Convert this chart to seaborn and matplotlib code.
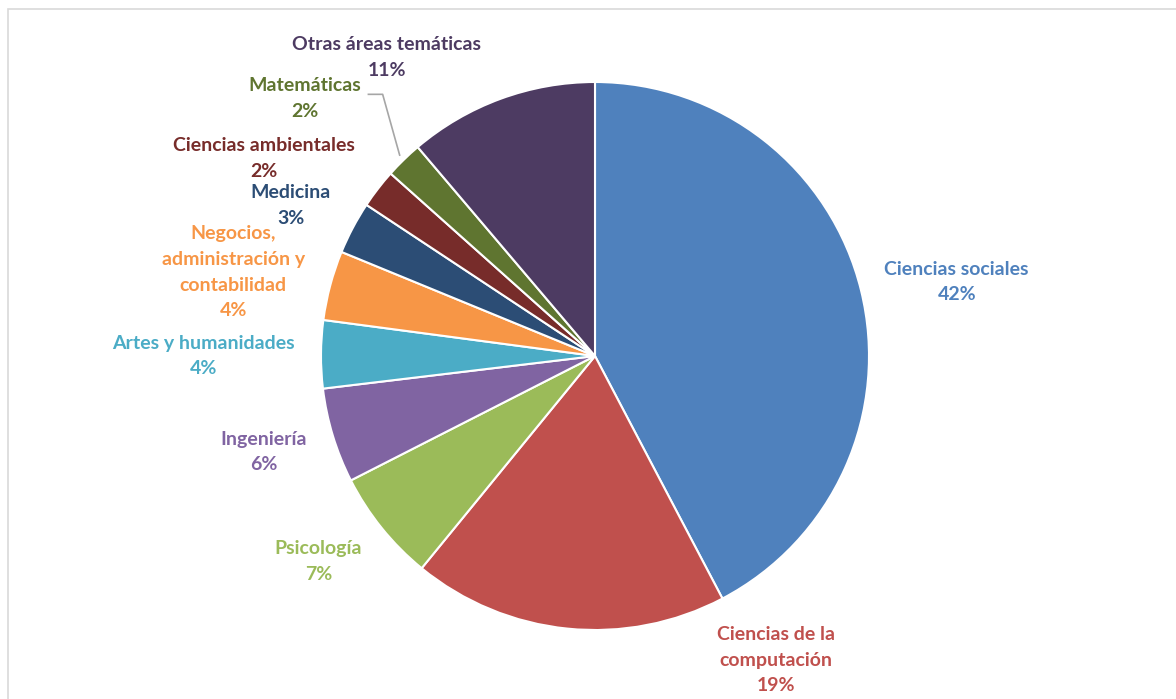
import numpy as np
import matplotlib
matplotlib.use("Agg")
import matplotlib.pyplot as plt
import seaborn as sns
from matplotlib.patches import Rectangle

## Data (shares; labels show them rounded)
categorias = ["Ciencias sociales", "Ciencias de la\ncomputación", "Psicología",
              "Ingeniería", "Artes y humanidades",
              "Negocios,\nadministración y\ncontabilidad", "Medicina",
              "Ciencias ambientales", "Matemáticas", "Otras áreas temáticas"]
porcentajes = [42.3, 18.6, 6.6, 5.6, 4.0, 4.1, 3.1, 2.3, 2.2, 11.2]
colores = ["#4F81BD", "#C0504D", "#9BBB59", "#8064A2", "#4BACC6",
           "#F79646", "#2C4D75", "#772C2A", "#5F7530", "#4D3B62"]

## Label positions (in pie radius units, relative to centre)
pos_etiquetas = [(1.32, 0.27), (0.66, -1.11), (-1.01, -0.75), (-1.21, -0.35),
                 (-1.43, 0.0), (-1.32, 0.305), (-1.11, 0.55), (-1.21, 0.72),
                 (-1.06, 0.94), (-0.76, 1.09)]

sns.set_theme(style="white")
plt.rcParams['font.family'] = ['Lato', 'DejaVu Sans']

W, H, dpi = 1176, 699, 100
fig = plt.figure(figsize=(W / dpi, H / dpi), dpi=dpi)
ax = fig.add_axes([0, 0, 1, 1])

cx, cy, r = 595, 699 - 356, 274
wedges, _ = ax.pie(porcentajes, colors=sns.color_palette(colores), startangle=90,
                   counterclock=False, radius=1,
                   wedgeprops=dict(edgecolor="white", linewidth=1.5))
ax.set_xlim(-cx / r, (W - cx) / r)
ax.set_ylim(-cy / r, (H - cy) / r)
ax.set_aspect("auto")
ax.axis("off")

for cat, val, col, (x, y) in zip(categorias, porcentajes, colores, pos_etiquetas):
    ax.text(x, y, f"{cat}\n{int(val + 0.5)}%", color=col, ha="center", va="center",
            fontsize=14, fontweight="bold", linespacing=1.62)

## Leader line for Matemáticas
idx = categorias.index("Matemáticas")
inicio = sum(porcentajes[:idx])
mid = (inicio + porcentajes[idx] / 2) / sum(porcentajes) * 2 * np.pi
ex, ey = np.sin(mid), np.cos(mid)
ax.plot([-0.83, -0.775, ex * 1.02], [0.955, 0.955, ey * 1.02],
        color="#A6A6A6", linewidth=1.2, solid_capstyle="butt")

## Chart frame
fig.patches.append(Rectangle((7.5 / W, -0.1), 1.2, 1.1 - 8.5 / H,
                             transform=fig.transFigure, fill=False,
                             edgecolor="#D9D9D9", linewidth=1.2))

fig.savefig("out.png", dpi=dpi)
